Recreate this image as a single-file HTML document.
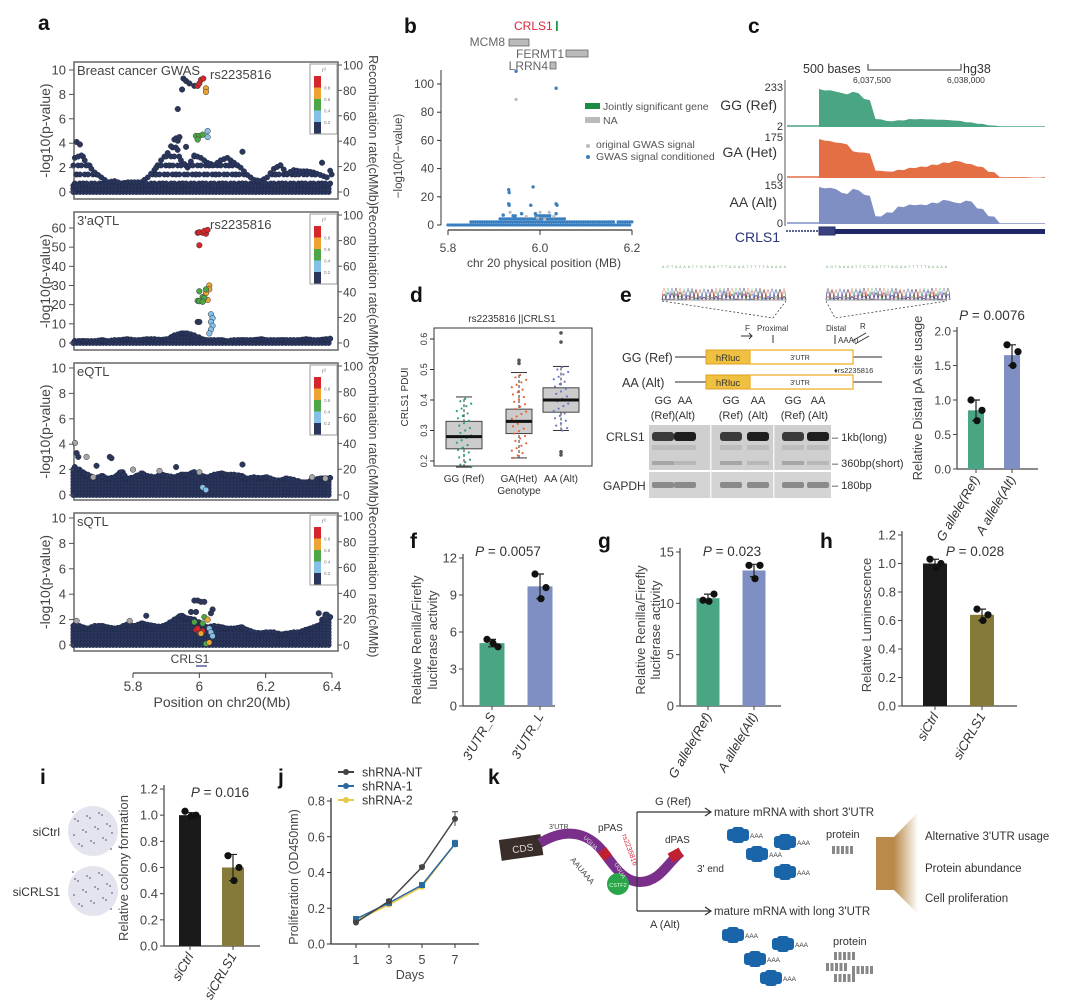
<!DOCTYPE html>
<html><head><meta charset="utf-8"><style>
html,body{margin:0;padding:0;background:#fff;}
svg{display:block;font-family:"Liberation Sans",Arial,sans-serif;}
</style></head><body>
<svg id="fig" width="1080" height="1002" viewBox="0 0 1080 1002" xmlns="http://www.w3.org/2000/svg">
<rect width="1080" height="1002" fill="#fff"/>
<g font-weight="bold" font-size="21" fill="#111">
<text x="38" y="30">a</text>
<text x="404" y="33">b</text>
<text x="748" y="33">c</text>
<text x="410" y="302">d</text>
<text x="620" y="302">e</text>
<text x="410" y="548">f</text>
<text x="598" y="548">g</text>
<text x="820" y="548">h</text>
<text x="40" y="784">i</text>
<text x="278" y="784">j</text>
<text x="488" y="784">k</text>
</g>
</svg>
<script>
// ---------- DATA ----------
const envGWAS=[2.8,3.0,2.2,1.6,1.2,0.8,0.9,0.7,0.8,0.8,0.8,1.2,1.8,2.6,3.2,4.3,2.6,2.0,3.0,2.8,2.4,2.2,2.6,2.8,2.4,2.0,1.4,1.0,0.9,1.2,1.9,2.2,1.5,1.8,1.7,1.7,1.6,1.4,1.2,2.3];
const envAQTL=[1,1,1,1,1.5,1,1.5,1.5,2,1.5,1.5,2,2,1.5,2,4,5,5,4,2,1.5,1.5,1.5,1,1.5,1.5,1.5,1.5,2,1.5,1.5,1.5,1.5,1.5,1.5,2,1.5,1.5,2,2.5];
const envEQTL=[2.2,1.8,1.6,1.3,1.5,1.3,1.4,1.8,1.3,1.4,1.7,1.5,1.4,1.6,1.5,1.4,1.6,1.6,1.8,1.5,1.4,1.6,1.7,1.6,1.6,1.5,1.3,1.4,1.3,1.4,1.2,1.1,1.3,1.2,1.0,1.0,1.2,1.3,1.3,1.4];
const envSQTL=[1.6,1.4,1.3,1.5,1.5,1.4,1.3,1.4,1.6,1.5,1.7,1.6,1.5,1.4,1.6,2.0,2.3,2.1,2.0,1.6,1.4,1.5,1.4,1.3,1.3,1.4,1.2,1.0,0.9,1.0,1.0,0.8,0.9,1.0,1.0,1.2,1.4,1.6,2.4,2.0];
const snpGWAS=[[5.952,9.3,0],[5.96,9.1,0],[5.97,8.9,0],[5.985,8.7,0],[5.948,8.4,0],[5.995,8.7,4],[6.0,8.9,4],[6.005,9.2,4],[6.012,9.3,4],[6.02,8.5,3],[6.02,8.2,3],[5.935,6.8,0],[5.99,4.6,2],[6.0,4.6,2],[6.01,4.7,2],[5.995,4.3,2],[6.025,5.0,1],[6.025,4.5,1],[5.93,4.4,0],[5.935,4.2,0],[5.94,4.5,0],[5.96,3.7,0],[5.87,2.0,0],[5.63,4.1,0],[5.64,3.9,0],[6.13,3.3,0],[6.37,2.4,0]];
const snpAQTL=[[5.995,57.5,4],[6.0,57.8,4],[6.01,57.5,4],[6.02,57,4],[6.015,58.5,4],[6.025,59,4],[6.0,51,4],[6.03,30,3],[6.03,28,3],[6.02,26,3],[6.025,22.5,3],[6.0,27,2],[6.02,28,2],[6.01,24,2],[6.015,23.5,2],[5.995,22,2],[6.0,21.8,2],[6.01,21.5,2],[6.035,15,1],[6.04,13,1],[6.035,11,1],[6.04,9,1],[6.035,7,1],[6.03,5,1],[5.995,11,0],[6.0,11,0]];
const snpEQTL=[[5.63,3.3,0],[5.635,3.0,0],[5.73,3.0,0],[5.735,2.9,0],[5.69,2.3,0],[6.13,2.4,0],[5.93,2.2,0],[5.625,4.1,5],[5.66,3.0,5],[5.8,2.0,5],[5.88,1.9,5],[6.0,1.8,5],[6.34,1.4,5],[6.38,1.3,5],[5.68,1.4,5],[6.01,0.6,1],[6.02,0.4,1]];
const snpSQTL=[[5.985,3.5,0],[5.995,3.5,0],[6.005,3.4,0],[6.015,3.4,0],[5.975,2.6,0],[5.99,2.6,0],[6.04,2.8,0],[6.035,2.5,0],[5.84,2.3,0],[6.36,2.5,0],[6.38,2.2,0],[5.99,1.2,4],[6.0,1.0,4],[5.995,1.3,4],[6.01,1.1,4],[6.01,1.7,2],[6.015,2.2,2],[5.985,1.8,2],[6.02,0.1,2],[6.025,2.0,3],[6.03,0.2,3],[6.005,0.9,3],[6.03,1.3,1],[6.035,1.0,1],[6.04,0.7,1],[5.63,1.9,5],[5.79,1.9,5]];
const ticksA10=[0,2,4,6,8,10];
const ticksA60=[0,10,20,30,40,50,60];
const ticksRecomb=[0,20,40,60,80,100];
const ticksPos=[5.8,6.0,6.2,6.4];
const ticksPosLabels=["5.8","6","6.2","6.4"];
const envB=[2,2,2,3,3,4,5,7,6,6,8,7,5,4,3,3,3,3,2,3,4];
const bGray=[[5.948,89],[5.935,9],[5.99,8],[6.0,9],[6.02,9],[6.03,6],[5.995,5],[6.01,4],[5.97,6]];
const bBlue=[[5.948,109],[6.035,97],[5.932,25],[5.933,23],[5.985,27],[5.932,15],[5.933,14],[5.98,14],[6.035,15],[6.037,14],[5.99,8],[6.035,8],[5.96,8],[5.92,7],[5.945,6]];
const ticksB=[0,20,40,60,80,100];
const ticksBx=[5.8,6.0,6.2];
const covGG=[0.95,0.92,0.85,0.88,0.7,0.2,0.15,0.17,0.2,0.2,0.19,0.18,0.16,0.12,0.08,0.04,0.02,0.02,0.02,0.02,0.02];
const covGA=[0.95,0.9,0.85,0.65,0.62,0.18,0.16,0.2,0.25,0.28,0.33,0.38,0.42,0.35,0.28,0.15,0.02,0.02,0.02,0.01,0.02];
const covAA=[0.95,0.93,0.8,0.9,0.75,0.2,0.3,0.45,0.5,0.5,0.55,0.62,0.55,0.6,0.4,0.2,0.02,0.02,0.02,0.02,0.02];
const dGroups=["GG (Ref)","GA(Het)","AA (Alt)"];
const dStats=[[0.18,0.24,0.28,0.33,0.41],[0.21,0.29,0.33,0.37,0.49],[0.30,0.36,0.40,0.44,0.51]];
const dOutliers=[[],[0.52,0.53],[0.59,0.62,0.22,0.23]];
const ticksD=[0.2,0.3,0.4,0.5,0.6];
const eCats=["G allele(Ref)","A allele(Alt)"];
const eMeans=[0.85,1.65];
const eErr=[0.15,0.15];
const ePts=[[1.0,0.85,0.7],[1.8,1.7,1.5]];
const ticksE=[0,0.5,1.0,1.5,2.0];
const fCats=["3'UTR_S","3'UTR_L"];
const fMeans=[5.1,9.7];
const fErr=[0.3,1.0];
const fPts=[[5.4,4.8,5.1],[10.7,9.6,8.7]];
const ticksF=[0,3,6,9,12];
const gCats=["G allele(Ref)","A allele(Alt)"];
const gMeans=[10.5,13.2];
const gErr=[0.4,0.6];
const gPts=[[10.3,10.9,10.2],[13.7,13.7,12.4]];
const ticksG=[0,5,10,15];
const hCats=["siCtrl","siCRLS1"];
const hMeans=[1.0,0.64];
const hErr=[0.03,0.04];
const hPts=[[1.03,1.0,0.97],[0.68,0.64,0.6]];
const ticksH=[0,0.2,0.4,0.6,0.8,1.0,1.2];
const iCats=["siCtrl","siCRLS1"];
const iMeans=[1.0,0.6];
const iErr=[0.02,0.1];
const iPts=[[1.03,1.0,0.99],[0.69,0.6,0.5]];
const ticksI=[0,0.2,0.4,0.6,0.8,1.0,1.2];
const jDays=[1,3,5,7];
const jNT=[0.12,0.24,0.43,0.70];
const jSh1=[0.14,0.23,0.33,0.56];
const jSh2=[0.13,0.22,0.32,0.56];
const jErrNT=[0.01,0.01,0.01,0.04];
const jErrSh1=[0.01,0.01,0.01,0.02];
const ticksJ=[0,0.2,0.4,0.6,0.8];

// ---------- HELPERS ----------
const NS="http://www.w3.org/2000/svg";
const svg=document.getElementById('fig');
function mk(tag,attrs,parent){const e=document.createElementNS(NS,tag);for(const k in attrs)e.setAttribute(k,attrs[k]);(parent||svg).appendChild(e);return e;}
function tx(x,y,s,attrs,parent){const e=mk('text',Object.assign({x:x,y:y},attrs||{}),parent);e.textContent=s;return e;}
function lin(d0,d1,r0,r1){return v=>r0+(v-d0)*(r1-r0)/(d1-d0);}
function grp(name){const g=mk('g',{});return g;}
const LD=['#2a365c','#84c0e8','#4ea746','#eea431','#d6262b','#a7a7a7'];

// ---------- PANEL A ----------
const xa=lin(5.8,6.4,133,332);
function manhattan(name,top,bottom,y0,yTop,yMax,ticks,env,snps,title,rsLabel,band){
  const g=grp(name);
  const ya=lin(0,yMax,y0,yTop);
  const box=mk('rect',{x:74,y:top,width:264,height:bottom-top,fill:'none',stroke:'#666','stroke-width':1.5},g);
  
  
  for(let i=0;i<env.length-1;i++){
    for(let s=0;s<2;s++){
      const p=5.62+0.02*i+0.01*s;
      const h=env[i]+(env[i+1]-env[i])*s*0.5;
      const yT=ya(h), yB=ya(Math.min(h,band));
      for(let yy=y0;yy>=yB;yy-=3.2){
        const c=mk('circle',{cx:xa(p),cy:yy,r:2.7,fill:LD[0],stroke:'#1a2340','stroke-width':0.4},g);
        
        
      }
      let n=0;
      for(let yy=yB;yy>=yT;yy-=9){
        n++;
        const c=mk('circle',{cx:xa(p)+((n+i+s)%3)*1.5,cy:yy,r:2.7,fill:LD[0],stroke:'#1a2340','stroke-width':0.4},g);
        
        
      }
      const c2=mk('circle',{cx:xa(p)+1.5,cy:yT,r:2.7,fill:LD[0],stroke:'#1a2340','stroke-width':0.4},g);
      
      
    }
  }
  snps.forEach(d=>{
    const c=mk('circle',{cx:xa(d[0]),cy:ya(d[1]),r:2.8,fill:LD[d[2]],stroke:'#333','stroke-width':0.5},g);
    
    
  });
  ticks.forEach(t=>{
    const l=mk('line',{x1:69,x2:74,y1:ya(t),y2:ya(t),stroke:'#555'},g);
    
    
    const s=tx(66,ya(t)+4.5,String(t),{'text-anchor':'end','font-size':13,fill:'#444'},g);
    
    
  });
  const yr=lin(0,100,y0,top+3);
  ticksRecomb.forEach(t=>{
    const l=mk('line',{x1:338,x2:342,y1:yr(t),y2:yr(t),stroke:'#555'},g);
    
    
    const s=tx(343,yr(t)+4.5,String(t),{'font-size':12,fill:'#444'},g);
    
    
  });
  const cy=(top+bottom)/2;
  const yl=tx(0,0,'-log10(p-value)',{'text-anchor':'middle','font-size':14,fill:'#444',transform:`translate(50,${cy}) rotate(-90)`},g);
  
  
  const rl=tx(0,0,'Recombination rate(cMMb)',{'text-anchor':'middle','font-size':12.5,fill:'#444',transform:`translate(369,${cy}) rotate(90)`},g);
  
  
  const tt=tx(77,top+13,title,{'font-size':13,fill:'#444'},g);
  
  
  if(rsLabel){const r=tx(210,top+17,'rs2235816',{'font-size':13,fill:'#444'},g);}
  const lg=mk('g',{},g);
  
  
  mk('rect',{x:310,y:top+2,width:27,height:70,fill:'#fff',stroke:'#999'},lg);
  tx(322,top+10,'r²',{'font-size':6,fill:'#777'},lg);
  const cols=[LD[4],LD[3],LD[2],LD[1],LD[0]];const labs=['0.8','0.6','0.4','0.2',''];
  cols.forEach((c,k)=>{mk('rect',{x:314,y:top+14+k*11.5,width:7,height:11.5,fill:c},lg);if(labs[k])tx(324,top+14+(k+1)*11.5+2,labs[k],{'font-size':4.5,fill:'#777'},lg);});
}
manhattan('gwas-locuszoom',62,199,192,70,10,ticksA10,envGWAS,snpGWAS,'Breast cancer GWAS',true,0.7);
manhattan('aqtl-locuszoom',212,350,343,228,60,ticksA60,envAQTL,snpAQTL,"3'aQTL",true,99);
manhattan('eqtl-locuszoom',363,500,495,368,10,ticksA10,envEQTL,snpEQTL,'eQTL',false,99);
manhattan('sqtl-locuszoom',513,651,645,518,10,ticksA10,envSQTL,snpSQTL,'sQTL',false,99);
(function(){
  const g=grp('position-axis');
  mk('line',{x1:133,x2:332,y1:673,y2:673,stroke:'#444','stroke-width':1.2},g);
  ticksPos.forEach((t,k)=>{
    const l=mk('line',{x1:xa(t),x2:xa(t),y1:673,y2:678,stroke:'#444'},g);
    
    
    const s=tx(xa(t),691,ticksPosLabels[k],{'text-anchor':'middle','font-size':13.5,fill:'#444'},g);
    
    
  });
  const t=tx(222,707,'Position on chr20(Mb)',{'text-anchor':'middle','font-size':14,fill:'#444'},g);
  
  
  const c=tx(190,663,'CRLS1',{'text-anchor':'middle','font-size':12,fill:'#444'},g);
  
  
  mk('line',{x1:196,x2:207,y1:666,y2:666,stroke:'#5560a0','stroke-width':1.5},g);
})();

// ---------- PANEL B ----------
(function(){
  const g=grp('conditional-gwas-plot');
  const xb=lin(5.8,6.2,448,632), yb=lin(0,100,225,84);
  mk('line',{x1:441,x2:441,y1:70,y2:225,stroke:'#333'},g);
  mk('line',{x1:448,x2:632,y1:230,y2:230,stroke:'#333','stroke-width':1.3},g);
  ticksB.forEach(t=>{
    const l=mk('line',{x1:437,x2:441,y1:yb(t),y2:yb(t),stroke:'#333'},g);
    
    
    const s=tx(434,yb(t)+4,String(t),{'text-anchor':'end','font-size':12,fill:'#444'},g);
    
    
  });
  ticksBx.forEach(t=>{
    const l=mk('line',{x1:xb(t),x2:xb(t),y1:230,y2:235,stroke:'#333'},g);
    
    
    const s=tx(xb(t),252,t.toFixed(1),{'text-anchor':'middle','font-size':12,fill:'#444'},g);
    
    
  });
  let t=tx(544,267,'chr 20 physical position (MB)',{'text-anchor':'middle','font-size':12,fill:'#444'},g);
  
  
  t=tx(0,0,'\u2212log10(P\u2212value)',{'text-anchor':'middle','font-size':11.5,fill:'#444',transform:'translate(402,156) rotate(-90)'},g);
  
  
  for(let i=0;i<envB.length-1;i++){
    for(let s=0;s<4;s++){
      const p=5.8+0.02*i+0.005*s;
      const h=envB[i]+(envB[i+1]-envB[i])*s/4;
      for(let v=0;v<=h;v+=2.2){
        const c=mk('circle',{cx:xb(p)+(v%3),cy:yb(v),r:1.6,fill:'#3a7fc0'},g);
        
        
      }
    }
  }
  bGray.forEach(d=>{const c=mk('circle',{cx:xb(d[0]),cy:yb(d[1]),r:1.6,fill:'#bbb'},g);});
  bBlue.forEach(d=>{const c=mk('circle',{cx:xb(d[0]),cy:yb(d[1]),r:1.7,fill:'#3a7fc0'},g);});
  const gg=mk('g',{'font-size':12,fill:'#666'},g);
  
  
  tx(514,30,'CRLS1',{fill:'#d9273b'},gg); mk('rect',{x:556,y:21,width:1.8,height:10,fill:'#1b9a4a'},gg);
  tx(505,46,'MCM8',{'text-anchor':'end'},gg); mk('rect',{x:509,y:39,width:20,height:7,fill:'#bbb',stroke:'#555','stroke-width':0.7},gg);
  tx(516,58,'FERMT1',{},gg); mk('rect',{x:566,y:50,width:22,height:7,fill:'#bbb',stroke:'#555','stroke-width':0.7},gg);
  tx(548,70,'LRRN4',{'text-anchor':'end'},gg); mk('rect',{x:550,y:62,width:6,height:7,fill:'#bbb',stroke:'#555','stroke-width':0.7},gg);
  const lg=mk('g',{'font-size':10.5,fill:'#555'},g);
  
  
  mk('rect',{x:585,y:103,width:15,height:6,fill:'#1a8a45'},lg); tx(603,110,'Jointly significant gene',{},lg);
  mk('rect',{x:585,y:117,width:15,height:6,fill:'#bbb'},lg); tx(603,124,'NA',{},lg);
  mk('circle',{cx:588,cy:146,r:2,fill:'#bbb'},lg); tx(596,148,'original GWAS signal',{},lg);
  mk('circle',{cx:588,cy:157,r:2,fill:'#3a7fc0'},lg); tx(596,160,'GWAS signal conditioned',{},lg);
})();

// ---------- PANEL C ----------
(function(){
  const g=grp('coverage-tracks');
  const x0=819,x1=1045;
  let t=tx(803,73,'500 bases',{'font-size':12.5,fill:'#333'},g);
  
  
  mk('path',{d:'M868,64 V70 H961 V64',fill:'none',stroke:'#333'},g);
  tx(963,73,'hg38',{'font-size':12.5,fill:'#333'},g);
  tx(853,83,'6,037,500',{'font-size':8.5,fill:'#333'},g);
  tx(947,83,'6,038,000',{'font-size':8.5,fill:'#333'},g);
  mk('line',{x1:785,x2:785,y1:80,y2:226,stroke:'#555'},g);
  const tracks=[[covGG,87,127,'#4aa582','233','2','GG (Ref)',110],[covGA,137,178,'#e46f45','175','0','GA (Het)',157],[covAA,185,224,'#7f8fc3','153','0','AA (Alt)',207]];
  tracks.forEach(tr=>{
    const cov=tr[0],top=tr[1],base=tr[2];
    const h=base-top, step=(x1-x0)/(cov.length-1);
    let d=`M${x0},${base}`;
    cov.forEach((v,k)=>{d+=` L${x0+k*step},${base-v*h}`;if(k<cov.length-1)d+=` L${x0+k*step+step*0.5},${base-(v*0.96)*h}`;});
    d+=` L${x1},${base} Z`;
    const p=mk('path',{d:d,fill:tr[3]},g);
    
    
    mk('line',{x1:787,x2:x0,y1:base-1,y2:base-1,stroke:tr[3],'stroke-width':1.5},g);
    tx(783,top+4,tr[4],{'text-anchor':'end','font-size':11,fill:'#333'},g);
    tx(783,base+3,tr[5],{'text-anchor':'end','font-size':11,fill:'#333'},g);
    const l=tx(777,tr[7],tr[6],{'text-anchor':'end','font-size':14,fill:'#333'},g);
    
    
  });
  mk('line',{x1:786,x2:819,y1:231,y2:231,stroke:'#27306a','stroke-width':1.5,'stroke-dasharray':'2,1'},g);
  mk('rect',{x:819,y:227,width:16,height:8,fill:'#3a3f80',stroke:'#27306a'},g);
  mk('rect',{x:835,y:229,width:210,height:5,fill:'#1e2866'},g);
  t=tx(780,242,'CRLS1',{'text-anchor':'end','font-size':14,fill:'#2b347a'},g);
  
  
})();

// ---------- PANEL D ----------
(function(){
  const g=grp('pdui-boxplot');
  const yd=lin(0.2,0.6,461,339);
  const cx=[464,519,561], cols=['#2aa37a','#e8643a','#6a78c8'];
  tx(512,322,'rs2235816 ||CRLS1',{'text-anchor':'middle','font-size':10,fill:'#333'},g);
  mk('rect',{x:434,y:328,width:158,height:138,fill:'none',stroke:'#333'},g);
  ticksD.forEach(t=>{
    const l=mk('line',{x1:430,x2:434,y1:yd(t),y2:yd(t),stroke:'#333'},g);
    
    
    const s=tx(0,0,t.toFixed(1),{'text-anchor':'middle','font-size':9,fill:'#333',transform:`translate(427,${yd(t)}) rotate(-90)`},g);
    
    
  });
  tx(0,0,'CRLS1 PDUI',{'text-anchor':'middle','font-size':10,fill:'#333',transform:'translate(408,397) rotate(-90)'},g);
  dStats.forEach((s,k)=>{
    const w=k==1?26:36;
    const b=mk('g',{},g);
    
    
    mk('line',{x1:cx[k],x2:cx[k],y1:yd(s[0]),y2:yd(s[4]),stroke:'#333','stroke-dasharray':'3,2'},b);
    mk('line',{x1:cx[k]-8,x2:cx[k]+8,y1:yd(s[0]),y2:yd(s[0]),stroke:'#333'},b);
    mk('line',{x1:cx[k]-8,x2:cx[k]+8,y1:yd(s[4]),y2:yd(s[4]),stroke:'#333'},b);
    mk('rect',{x:cx[k]-w/2,y:yd(s[3]),width:w,height:yd(s[1])-yd(s[3]),fill:'#ccc',stroke:'#444'},b);
    for(let v=s[0];v<=s[4];v+=0.008){
      const off=((Math.round(v*1000)*7)%13-6)*1.2;
      mk('circle',{cx:cx[k]+off,cy:yd(v),r:1.1,fill:cols[k]},b);
    }
    mk('line',{x1:cx[k]-w/2,x2:cx[k]+w/2,y1:yd(s[2]),y2:yd(s[2]),stroke:'#111','stroke-width':3},b);
    dOutliers[k].forEach(o=>mk('circle',{cx:cx[k],cy:yd(o),r:1.8,fill:'#555'},b));
    tx(cx[k],482,dGroups[k],{'text-anchor':'middle','font-size':10,fill:'#333'},g);
  });
  tx(519,494,'Genotype',{'text-anchor':'middle','font-size':10,fill:'#333'},g);
})();

// ---------- PANEL E schematic ----------
(function(){
  const g=grp('reporter-schematic');
  [[662,786],[826,947]].forEach((r,k)=>{
    const cg=mk('g',{},g);
    
    
    tx(r[0],268,'AGTAAAATTGTAATTTAGAATTTTTAAAAA',{'font-size':3.6,fill:'#6a6','textLength':r[1]-r[0]},cg);
    const cs=['#6c6','#e66','#333','#66c'];
    for(let c=0;c<4;c++){
      let d=`M${r[0]},300`;
      for(let x=r[0];x<r[1];x+=4){const ph=(x*0.37+c*1.7);d+=` Q${x+2},${300-((Math.sin(ph)*0.5+0.5)*22+2)} ${x+4},300`;}
      mk('path',{d:d,fill:'none',stroke:cs[c],'stroke-width':0.6},cg);
    }
    mk('line',{x1:r[0],x2:r[1],y1:300,y2:300,stroke:'#999'},cg);
  });
  mk('path',{d:'M662,301 L773,318 L786,301 M826,301 L835,318 L947,301',fill:'none',stroke:'#444','stroke-dasharray':'2,2','stroke-width':0.8},g);
  const f=mk('g',{'font-size':8,fill:'#333'},g);
  tx(745,331,'F',{},f); mk('path',{d:'M741,336 H752 M749,333 L752,336 L749,339',stroke:'#333',fill:'none'},f);
  tx(757,331,'Proximal',{},f); mk('line',{x1:773,x2:773,y1:335,y2:343,stroke:'#333'},f);
  tx(826,331,'Distal',{},f); tx(838,343,'AAAn',{},f); mk('line',{x1:835,x2:835,y1:335,y2:344,stroke:'#333'},f);
  tx(860,329,'R',{},f); mk('path',{d:'M852,341 L866,333 M855,344 L869,336',stroke:'#333'},f);
  [[357,'GG (Ref)'],[382,'AA (Alt)']].forEach(r=>{
    const cg=mk('g',{},g);
    
    
    tx(622,r[0]+5,r[1],{'font-size':12.5,fill:'#333'},cg);
    mk('line',{x1:675,x2:882,y1:r[0],y2:r[0],stroke:'#555','stroke-width':1.2},cg);
    mk('rect',{x:706,y:r[0]-7,width:44,height:14,fill:'#f0c040',stroke:'#e0a020'},cg);
    mk('rect',{x:750,y:r[0]-7,width:103,height:14,fill:'#fff',stroke:'#f0b030','stroke-width':1.3},cg);
    tx(728,r[0]+4,'hRluc',{'text-anchor':'middle','font-size':9.5,fill:'#333'},cg);
    tx(800,r[0]+3,"3'UTR",{'text-anchor':'middle','font-size':7,fill:'#333'},cg);
  });
  tx(834,373,'\u2666rs2235816',{'font-size':7.5,fill:'#333'},g);
  const gel=mk('g',{},g);
  
  
  const lanes=[663,685,731,758,793,818];
  lanes.forEach((x,k)=>{tx(x,404,k%2?'AA':'GG',{'text-anchor':'middle','font-size':11,fill:'#333'},gel);tx(x,419,k%2?'(Alt)':'(Ref)',{'text-anchor':'middle','font-size':11,fill:'#333'},gel);});
  mk('rect',{x:649,y:425,width:182,height:45,fill:'#cfcfcf'},gel);
  mk('rect',{x:649,y:472,width:182,height:26,fill:'#d4d4d4'},gel);
  mk('rect',{x:710,y:425,width:1.5,height:73,fill:'#f4f4f4'},gel);
  mk('rect',{x:773,y:425,width:1.5,height:73,fill:'#f4f4f4'},gel);
  lanes.forEach((x,k)=>{
    mk('rect',{x:x-11,y:432,width:22,height:9,rx:3,fill:k%2?'#1e1e1e':'#3a3a3a'},gel);
    mk('rect',{x:x-11,y:445,width:22,height:5,fill:'#bdbdbd'},gel);
    mk('rect',{x:x-11,y:461,width:22,height:4,fill:k%2?'#b8b8b8':'#a6a6a6'},gel);
    mk('rect',{x:x-11,y:482,width:22,height:6,rx:2,fill:'#8a8a8a'},gel);
  });
  tx(606,441,'CRLS1',{'font-size':12,fill:'#333'},gel);
  tx(603,490,'GAPDH',{'font-size':12,fill:'#333'},gel);
  tx(832,441,'\u2013 1kb(long)',{'font-size':11,fill:'#333'},gel);
  tx(832,467,'\u2013 360bp(short)',{'font-size':11,fill:'#333'},gel);
  tx(832,489,'\u2013 180bp',{'font-size':11,fill:'#333'},gel);
})();

// ---------- BAR CHART helper ----------
function barChart(name,o){
  const g=grp(name);
  const y=lin(0,o.max,o.y0,o.yMax);
  mk('line',{x1:o.ax,x2:o.ax,y1:o.yMax-4,y2:o.y0,stroke:'#444','stroke-width':1.2},g);
  mk('line',{x1:o.ax,x2:o.xEnd,y1:o.y0,y2:o.y0,stroke:'#444','stroke-width':1.2},g);
  o.ticks.forEach(t=>{
    const l=mk('line',{x1:o.ax-4,x2:o.ax,y1:y(t),y2:y(t),stroke:'#444'},g);
    
    
    const s=tx(o.ax-6,y(t)+4.5,o.fmt(t),{'text-anchor':'end','font-size':o.fs||13,fill:'#444'},g);
    
    
  });
  o.cats.forEach((c,k)=>{
    const x=o.bx[k];
    const b=mk('rect',{x:x-o.bw/2,y:y(o.means[k]),width:o.bw,height:o.y0-y(o.means[k]),fill:o.colors[k]},g);
    
    
    const e1=mk('path',{d:`M${x},${y(o.means[k]-o.err[k])} V${y(o.means[k]+o.err[k])} M${x-4},${y(o.means[k]+o.err[k])} H${x+4} M${x-4},${y(o.means[k]-o.err[k])} H${x+4}`,stroke:'#222','stroke-width':1.2,fill:'none'},g);
    
    
    o.pts[k].forEach((v,j)=>{
      const p=mk('circle',{cx:x+[-5,6,1][j],cy:y(v),r:3.6,fill:'#111'},g);
      
      
    });
    mk('line',{x1:x,x2:x,y1:o.y0,y2:o.y0+4,stroke:'#444'},g);
    const s=tx(0,0,c,{'text-anchor':'end','font-size':13,fill:'#333','font-style':'italic',transform:`translate(${x+4},${o.y0+10}) rotate(-60)`},g);
    
    
  });
  const p=tx(o.px,o.py,'',{'text-anchor':'middle','font-size':13.5,fill:'#333'},g);
  p.innerHTML='<tspan font-style="italic">P</tspan> = '+o.p;
  
  
  o.ylab.forEach((l,k)=>{
    const s=tx(0,0,l,{'text-anchor':'middle','font-size':13,fill:'#444',transform:`translate(${o.ylx[k]},${o.yly}) rotate(-90)`},g);
    
    
  });
}
barChart('distal-pa-usage-chart',{max:2,y0:469,yMax:331,ax:957,xEnd:1038,ticks:ticksE,fmt:t=>t.toFixed(1),cats:eCats,means:eMeans,err:eErr,pts:ePts,bx:[976,1012],bw:16,colors:['#4aa582','#7f8fc3'],p:'0.0076',px:992,py:320,ylab:['Relative Distal pA site usage'],ylx:[922],yly:398,fs:12});
barChart('luciferase-utr-chart',{max:12,y0:706,yMax:558,ax:463,xEnd:555,ticks:ticksF,fmt:t=>String(t),cats:fCats,means:fMeans,err:fErr,pts:fPts,bx:[492,540],bw:25,colors:['#4aa582','#7f8fc3'],p:'0.0057',px:508,py:556,ylab:['Relative Renilla/Firefly','luciferase activity'],ylx:[421,437],yly:640});
barChart('luciferase-allele-chart',{max:15,y0:706,yMax:552,ax:680,xEnd:781,ticks:ticksG,fmt:t=>String(t),cats:gCats,means:gMeans,err:gErr,pts:gPts,bx:[708,754],bw:23,colors:['#4aa582','#7f8fc3'],p:'0.023',px:732,py:556,ylab:['Relative Renilla/Firefly','luciferase activity'],ylx:[645,660],yly:630});
barChart('luminescence-chart',{max:1.2,y0:706,yMax:535,ax:902,xEnd:1017,ticks:ticksH,fmt:t=>t.toFixed(1),cats:hCats,means:hMeans,err:hErr,pts:hPts,bx:[935,982],bw:24,colors:['#1a1a1a','#857a38'],p:'0.028',px:975,py:556,ylab:['Relative Luminescence'],ylx:[871],yly:625});
barChart('colony-formation-chart',{max:1.2,y0:946,yMax:789,ax:164,xEnd:260,ticks:ticksI,fmt:t=>t.toFixed(1),cats:iCats,means:iMeans,err:iErr,pts:iPts,bx:[190,233],bw:22,colors:['#1a1a1a','#857a38'],p:'0.016',px:220,py:797,ylab:['Relative colony formation'],ylx:[128],yly:868});
(function(){
  const g=grp('colony-dishes');
  [[831,'siCtrl'],[891,'siCRLS1']].forEach(d=>{
    const c=mk('circle',{cx:93,cy:d[0],r:25,fill:'#e4e4ee'},g);
    
    
    for(let k=0;k<22;k++){mk('circle',{cx:93+((k*37)%41-20),cy:d[0]+((k*53)%39-19),r:0.9,fill:'#6a6a8a'},g);}
    tx(60,d[0]+5,d[1],{'text-anchor':'end','font-size':12,fill:'#333'},g);
  });
})();

// ---------- PANEL J ----------
(function(){
  const g=grp('proliferation-chart');
  const xj=lin(1,7,356,455), yj=lin(0,0.8,944,801);
  mk('line',{x1:331,x2:331,y1:798,y2:944,stroke:'#333','stroke-width':1.3},g);
  mk('line',{x1:331,x2:479,y1:944,y2:944,stroke:'#333','stroke-width':1.3},g);
  ticksJ.forEach(t=>{
    const l=mk('line',{x1:327,x2:331,y1:yj(t),y2:yj(t),stroke:'#333'},g);
    
    
    const s=tx(325,yj(t)+4.5,t.toFixed(1),{'text-anchor':'end','font-size':12.5,fill:'#444'},g);
    
    
  });
  jDays.forEach(d=>{
    const l=mk('line',{x1:xj(d),x2:xj(d),y1:944,y2:948,stroke:'#333'},g);
    
    
    const s=tx(xj(d),964,String(d),{'text-anchor':'middle','font-size':12.5,fill:'#444'},g);
    
    
  });
  tx(410,979,'Days',{'text-anchor':'middle','font-size':12.5,fill:'#444'},g);
  tx(0,0,'Proliferation (OD450nm)',{'text-anchor':'middle','font-size':12.5,fill:'#444',transform:'translate(298,877) rotate(-90)'},g);
  const series=[[jSh2,null,'#e8c84a','shRNA-2'],[jSh1,jErrSh1,'#2a6a9e','shRNA-1'],[jNT,jErrNT,'#444','shRNA-NT']];
  series.forEach((s,k)=>{
    const pl=mk('polyline',{points:jDays.map((d,i)=>xj(d)+','+yj(s[0][i])).join(' '),fill:'none',stroke:s[2],'stroke-width':1.5},g);
    
    
    jDays.forEach((d,i)=>{
      if(s[1]){mk('path',{d:`M${xj(d)},${yj(s[0][i]-s[1][i])} V${yj(s[0][i]+s[1][i])} M${xj(d)-3},${yj(s[0][i]+s[1][i])} H${xj(d)+3}`,stroke:s[2],fill:'none'},g);}
      const m=k==1?mk('rect',{x:xj(d)-3,y:yj(s[0][i])-3,width:6,height:6,fill:s[2]},g):mk('circle',{cx:xj(d),cy:yj(s[0][i]),r:3,fill:s[2]},g);
      
      
    });
  });
  const lg=mk('g',{},g);
  
  
  [['#444','shRNA-NT',772],['#2a6a9e','shRNA-1',786],['#e8c84a','shRNA-2',800]].forEach(l=>{
    mk('line',{x1:338,x2:354,y1:l[2],y2:l[2],stroke:l[0],'stroke-width':2},lg);
    mk('circle',{cx:346,cy:l[2],r:3,fill:l[0]},lg);
    tx(362,l[2]+4.5,l[1],{'font-size':12.5,fill:'#333'},lg);
  });
})();

// ---------- PANEL K ----------
(function(){
  const g=grp('mechanism-model');
  const cds=mk('g',{transform:'rotate(-8 521 847)'},g);
  
  
  mk('rect',{x:500,y:837,width:42,height:21,fill:'#3a2e2a'},cds);
  tx(512,852,'CDS',{'font-size':10,fill:'#ddd'},cds);
  const m=mk('path',{d:'M540,843 C565,828 585,832 600,848 C612,862 622,882 640,882 C660,882 668,862 681,852',fill:'none',stroke:'#7a2f8a','stroke-width':10,'stroke-linecap':'butt'},g);
  
  
  mk('path',{d:'M602,850 L608,858',stroke:'#c02030','stroke-width':10},g);
  mk('path',{d:'M670,858 L681,852',stroke:'#c02030','stroke-width':10},g);
  const cs=mk('circle',{cx:618,cy:884,r:11,fill:'#2aa54a'},g);
  
  
  tx(618,887,'CSTF2',{'text-anchor':'middle','font-size':5.5,fill:'#dfd'},g);
  tx(549,829,"3'UTR",{'font-size':7,fill:'#444'},g);
  tx(598,831,'pPAS',{'font-size':10,fill:'#333'},g);
  tx(665,843,'dPAS',{'font-size':10,fill:'#333'},g);
  tx(697,872,"3' end",{'font-size':10,fill:'#333'},g);
  tx(0,0,'rs2235816',{'font-size':7,fill:'#d9273b',transform:'translate(622,835) rotate(70)'},g);
  tx(0,0,'AAUAAA',{'font-size':8,fill:'#444',transform:'translate(570,860) rotate(50)'},g);
  tx(0,0,'UGUA',{'font-size':6,fill:'#ddd',transform:'translate(583,838) rotate(45)'},g);
  tx(0,0,'UGUA',{'font-size':6,fill:'#ddd',transform:'translate(614,864) rotate(60)'},g);
  mk('path',{d:'M637,812 V911 M637,812 H710 M637,911 H710 M705,808 L711,812 L705,816 M705,907 L711,911 L705,915',stroke:'#333',fill:'none','stroke-width':1.2},g);
  tx(655,805,'G (Ref)',{'font-size':11,fill:'#333'},g);
  tx(650,928,'A (Alt)',{'font-size':11,fill:'#333'},g);
  tx(714,816,"mature mRNA with short 3'UTR",{'font-size':11.5,fill:'#333'},g);
  tx(714,915,"mature mRNA with long 3'UTR",{'font-size':11.5,fill:'#333'},g);
  const ribo=[[738,835],[785,842],[757,854],[785,872],[733,935],[783,944],[755,959],[771,978]];
  ribo.forEach(r=>{
    const q=mk('g',{},g);
    
    
    mk('rect',{x:r[0]-11,y:r[1]-6,width:22,height:12,rx:3,fill:'#1a64aa'},q);
    mk('rect',{x:r[0]-6,y:r[1]-8,width:12,height:16,rx:3,fill:'#1a64aa'},q);
    tx(r[0]+12,r[1]+3,'AAA',{'font-size':6.5,fill:'#333'},q);
  });
  tx(826,838,'protein',{'font-size':11,fill:'#333'},g);
  tx(833,945,'protein',{'font-size':11,fill:'#333'},g);
  [[832,846],[834,952],[826,963],[852,966],[834,974]].forEach(p=>{
    for(let k=0;k<5;k++)mk('rect',{x:p[0]+k*4.5,y:p[1],width:3,height:8,fill:'#888'},g);
  });
  const fun=mk('g',{},g);
  
  
  mk('defs',{},fun).innerHTML='<linearGradient id="fg" x1="0" x2="1"><stop offset="0" stop-color="#b98a4a"/><stop offset="1" stop-color="#b98a4a" stop-opacity="0"/></linearGradient>';
  mk('rect',{x:876,y:837,width:18,height:53,fill:'#b98a4a'},fun);
  mk('path',{d:'M894,837 L918,812 L918,914 L894,890 Z',fill:'url(#fg)'},fun);
  tx(925,840,"Alternative 3'UTR usage",{'font-size':11.5,fill:'#333'},fun);
  tx(925,872,'Protein abundance',{'font-size':11.5,fill:'#333'},fun);
  tx(925,902,'Cell proliferation',{'font-size':11.5,fill:'#333'},fun);
})();
</script>
</body></html>
